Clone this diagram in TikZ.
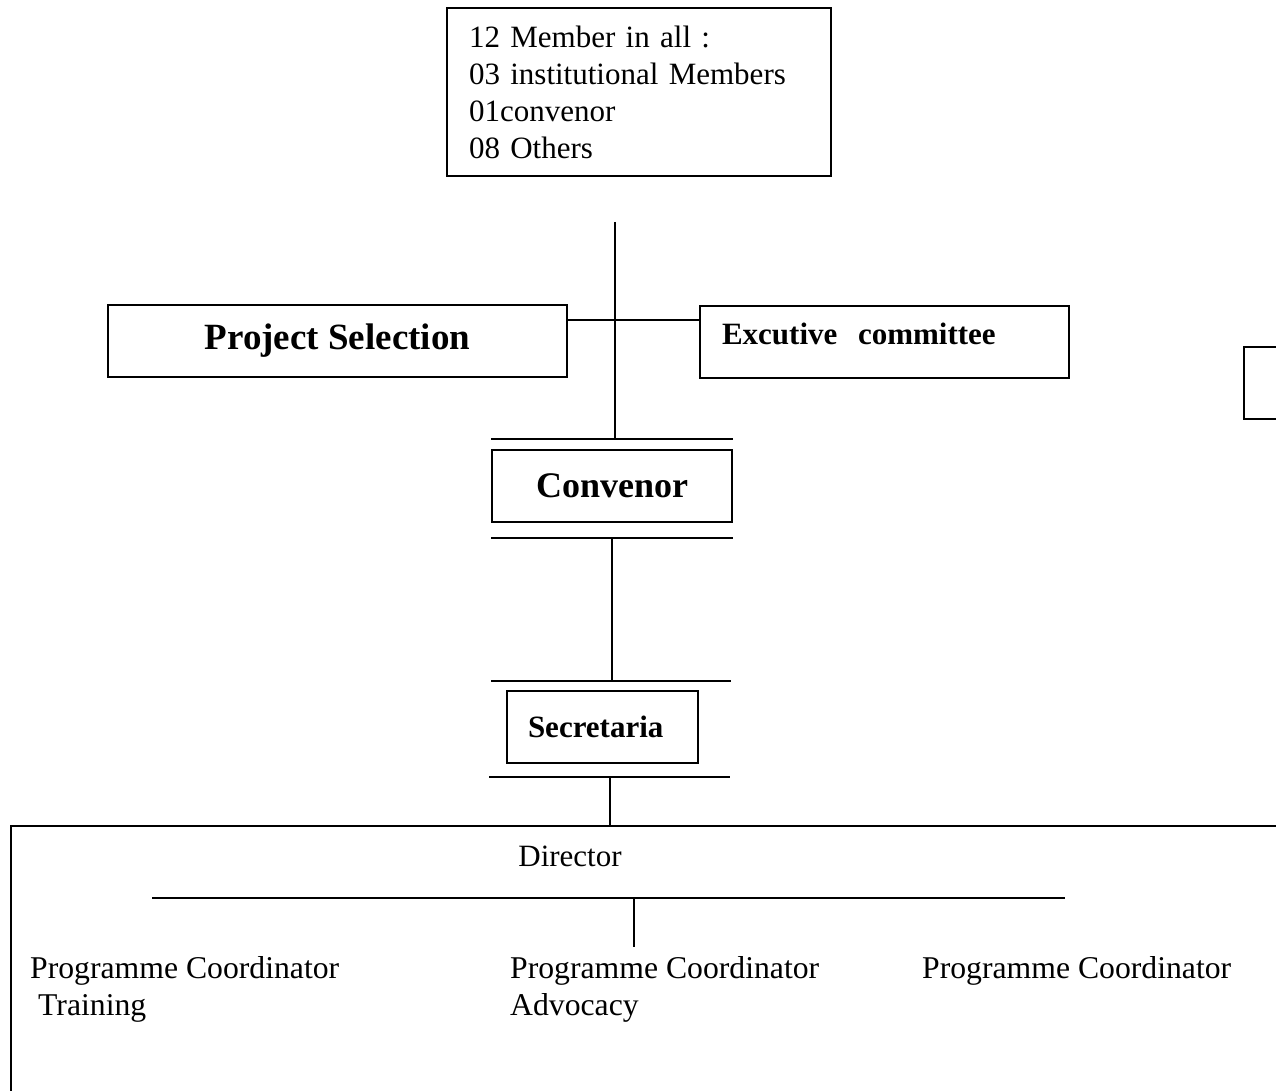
\documentclass[tikz,border=0pt]{standalone}
\usepackage{fontspec}
\setmainfont{Liberation Serif}
\begin{document}
\begin{tikzpicture}[x=1pt,y=-1pt,
  box/.style={draw, line width=1.6pt, inner sep=0pt},
  ln/.style={line width=1.5pt},
  reg/.style={font=\fontsize{31}{37}\selectfont, inner sep=0pt},
  pcs/.style={font=\fontsize{31.7}{37}\selectfont, inner sep=0pt, anchor=north west, align=left}]
\useasboundingbox (0,0) rectangle (1276,1091);
\clip (0,0) rectangle (1276,1091);

% boxes
\node[box, minimum width=384pt, minimum height=168pt, text width=340pt, align=left, reg] (members) at (639,92)
  {12 Member in all :\\03 institutional Members\\01convenor\\08 Others};
\node[box, minimum width=459pt, minimum height=72pt, font=\bfseries\fontsize{37}{44}\selectfont] (ps) at (337.5,341) {Project Selection};
\node[box, minimum width=369pt, minimum height=72pt, text width=325pt, align=left, text height=22pt, text depth=17pt, font=\bfseries\fontsize{31}{37}\selectfont] (ec) at (884.5,342) {Excutive\ \ committee};
\node[box, minimum width=240pt, minimum height=72pt, font=\bfseries\fontsize{36}{43}\selectfont] (conv) at (612,486) {Convenor};
\node[box, minimum width=191pt, minimum height=72pt, text width=171pt, align=left, font=\bfseries\fontsize{31}{37}\selectfont] (sec) at (602.5,727) {\hspace*{11pt}Secretaria};
\node[box, minimum width=1300pt, minimum height=300pt, anchor=north west] (unit) at (10,825) {};
\node[box, minimum width=80pt, minimum height=72pt, anchor=north west] (side) at (1243,346) {};

% texts in unit box
\node[reg] (dir) at (570,856) {Director};
\node[pcs] (pc1) at (30,956) {Programme Coordinator\\\hspace*{8pt}Training};
\node[pcs] (pc2) at (510,956) {Programme Coordinator\\Advocacy};
\node[pcs] (pc3) at (922,956) {Programme Coordinator};

% bars
\coordinate (cT) at ([yshift=10pt]conv.north);
\coordinate (cB) at ([yshift=-15pt]conv.south);
\coordinate (sT) at ([xshift=7.5pt,yshift=9pt]sec.north);
\coordinate (sB) at ([xshift=7.5pt,yshift=-13pt]sec.south);
\draw[ln] ([yshift=10pt]conv.north west) -- ([yshift=10pt]conv.north east);
\draw[ln] ([yshift=-15pt]conv.south west) -- ([yshift=-15pt]conv.south east);
\draw[ln] ([xshift=-15pt,yshift=9pt]sec.north west) -- ([xshift=32pt,yshift=9pt]sec.north east);
\draw[ln] ([xshift=-17pt,yshift=-13pt]sec.south west) -- ([xshift=31pt,yshift=-13pt]sec.south east);

% connectors
\coordinate (vtop) at (615,222);
\draw[ln] (vtop) -- (vtop |- cT);
\draw[ln] ([yshift=21pt]ps.east) -- ([yshift=21pt]ps.east -| ec.west);
\draw[ln] (cB) -- (cB |- sT);
\draw[ln] (sB) -- (sB |- unit.north);

\coordinate (dl) at (152,898);
\coordinate (dr) at (1065,898);
\coordinate (dmid) at (634,898);
\coordinate (dend) at (634,947);
\draw[ln] (dl) -- (dr);
\draw[ln] (dmid) -- (dend);
\end{tikzpicture}
\end{document}
